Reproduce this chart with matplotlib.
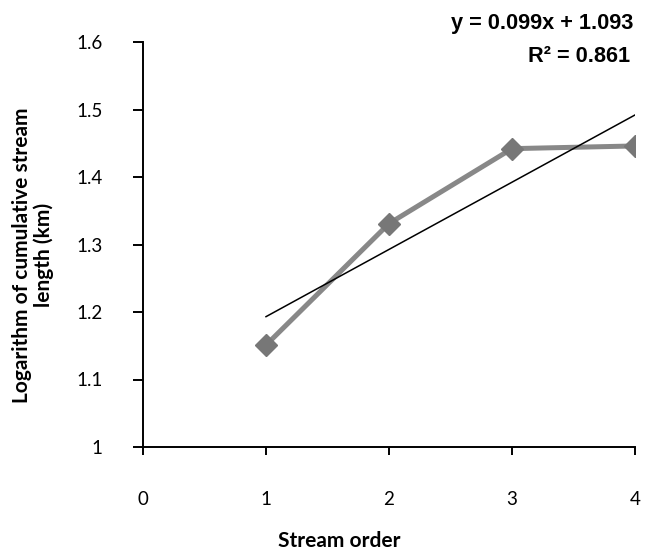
#!/usr/bin/env python3
"""Stream order vs. logarithm of cumulative stream length, with linear trendline."""

import numpy as np
import matplotlib
matplotlib.use("Agg")
import matplotlib.pyplot as plt

# Data
stream_order = [1, 2, 3, 4]
log_cum_length = [1.151, 1.331, 1.442, 1.446]
x_ticks = [0, 1, 2, 3, 4]
y_ticks = [1.0, 1.1, 1.2, 1.3, 1.4, 1.5, 1.6]
y_tick_labels = ["1", "1.1", "1.2", "1.3", "1.4", "1.5", "1.6"]
equation_text = "y = 0.099x + 1.093"
r2_text = "R\u00b2 = 0.861"

TICK_FONT = "Lato"
EQ_FONT = "Liberation Sans"


def main():
    fig = plt.figure(figsize=(6.45, 5.5), dpi=100)
    ax = fig.add_axes([143 / 645, 1 - 447 / 550, (635 - 143) / 645, (447 - 42) / 550])

    # Observed series
    ax.plot(stream_order, log_cum_length, color="#888888", linewidth=3.6,
            marker="D", markersize=11.5, markerfacecolor="#777777",
            markeredgecolor="#777777", solid_joinstyle="round", zorder=3)

    # Linear trendline over the data range
    slope, intercept = np.polyfit(stream_order, log_cum_length, 1)
    xs = np.array([min(stream_order), max(stream_order)])
    ax.plot(xs, slope * xs + intercept, color="black", linewidth=1.1, zorder=4)

    ax.set_xlim(0, 4)
    ax.set_ylim(1.0, 1.6)
    ax.set_xticks(x_ticks)
    ax.set_xticklabels([str(t) for t in x_ticks], fontsize=13.5, family=TICK_FONT)
    ax.set_yticks(y_ticks)
    ax.set_yticklabels(y_tick_labels, fontsize=13.5, family=TICK_FONT)

    for side in ("top", "right"):
        ax.spines[side].set_visible(False)
    for side in ("left", "bottom"):
        ax.spines[side].set_linewidth(1.4)
        ax.spines[side].set_capstyle("projecting")

    ax.tick_params(axis="y", direction="out", length=7, width=1.4, pad=22)
    ax.tick_params(axis="x", direction="out", length=6, width=1.4, pad=26)
    for lab in ax.get_xticklabels():
        lab.set_clip_on(False)

    # Axis titles
    fig.text(33 / 645, 1 - 255 / 550, "Logarithm of cumulative stream\nlength (km)",
             rotation=90, ha="center", va="center", multialignment="center",
             fontsize=15, fontweight="bold", family=TICK_FONT, linespacing=1.1)
    fig.text(339 / 645, 1 - 541 / 550, "Stream order", ha="center", va="center",
             fontsize=15, fontweight="bold", family=TICK_FONT)

    # Trendline equation
    fig.text(633 / 645, 1 - 23 / 550, equation_text, ha="right", va="center",
             fontsize=15.7, fontweight="bold", family=EQ_FONT)
    fig.text(630 / 645, 1 - 57 / 550, r2_text, ha="right", va="center",
             fontsize=15.7, fontweight="bold", family=EQ_FONT)

    fig.savefig("out.png", dpi=100)
    plt.close(fig)


if __name__ == "__main__":
    main()
